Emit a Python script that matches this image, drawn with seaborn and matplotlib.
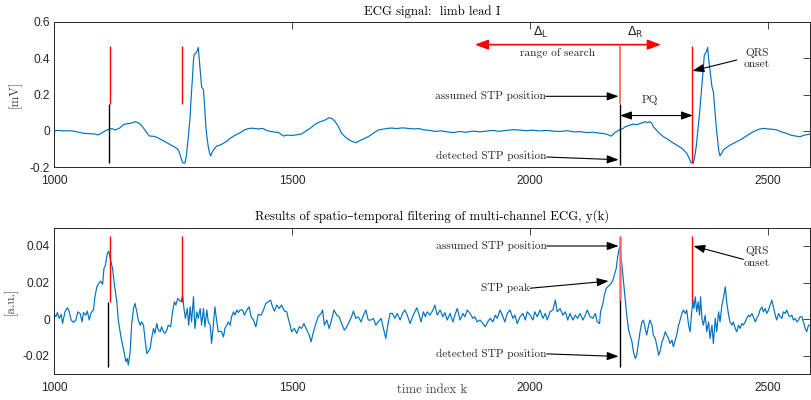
import matplotlib
matplotlib.use("Agg")
import matplotlib.pyplot as plt
import seaborn as sns
import pandas as pd

# ---------------- data ----------------
top_k = [1000, 1010, 1020, 1034, 1045, 1055, 1062, 1075, 1085, 1093, 1100, 1104, 1110, 1116, 1122, 1128,
         1134, 1139, 1144, 1149, 1158, 1165, 1170, 1176, 1181, 1186, 1191, 1196, 1200, 1208, 1216, 1226,
         1237, 1248, 1258, 1262, 1265, 1268, 1270, 1275, 1278, 1280, 1283, 1286, 1288, 1291, 1293, 1294,
         1297, 1300, 1303, 1305, 1307, 1310, 1314, 1316, 1319, 1321, 1324, 1327, 1329, 1332, 1335, 1342,
         1350, 1356, 1363, 1370, 1380, 1391, 1400, 1408, 1418, 1428, 1438, 1450, 1460, 1472, 1482, 1490,
         1500, 1510, 1520, 1530, 1538, 1545, 1552, 1560, 1570, 1578, 1585, 1590, 1597, 1604, 1612, 1620,
         1627, 1634, 1642, 1650, 1660, 1670, 1681, 1690, 1700, 1709, 1720, 1732, 1744, 1755, 1766, 1779,
         1790, 1800, 1812, 1825, 1839, 1852, 1865, 1880, 1895, 1909, 1922, 1935, 1950, 1965, 1979, 1992,
         2005, 2020, 2035, 2049, 2063, 2078, 2092, 2105, 2119, 2132, 2145, 2155, 2161, 2166, 2170, 2174,
         2178, 2183, 2187, 2195, 2200, 2208, 2217, 2224, 2231, 2237, 2242, 2247, 2252, 2256, 2259, 2265,
         2272, 2280, 2288, 2296, 2308, 2318, 2329, 2334, 2338, 2343, 2346, 2349, 2352, 2356, 2360, 2363,
         2366, 2369, 2371, 2373, 2375, 2377, 2382, 2385, 2388, 2391, 2394, 2396, 2399, 2403, 2406, 2413,
         2420, 2430, 2441, 2455, 2469, 2480, 2490, 2500, 2510, 2518, 2530, 2539, 2546, 2555, 2567, 2575,
         2588]
top_v = [0.000, 0.002, -0.001, 0.000, -0.004, -0.010, -0.014, -0.016, -0.018, -0.023, -0.012, -0.005,
         0.003, 0.008, 0.012, 0.004, 0.010, 0.017, 0.030, 0.037, 0.040, 0.044, 0.050, 0.045, 0.037, 0.022,
         0.004, -0.015, -0.029, -0.030, -0.036, -0.050, -0.066, -0.082, -0.097, -0.110, -0.134, -0.160,
         -0.176, -0.178, -0.140, -0.088, -0.010, 0.078, 0.180, 0.298, 0.390, 0.418, 0.425, 0.436, 0.460,
         0.400, 0.335, 0.243, 0.225, 0.150, 0.022, -0.030, -0.088, -0.125, -0.139, -0.120, -0.106, -0.084,
         -0.078, -0.069, -0.058, -0.042, -0.025, -0.011, 0.005, 0.012, 0.014, 0.010, 0.013, -0.001, -0.006,
         -0.010, -0.029, -0.024, -0.026, -0.022, -0.018, 0.000, 0.013, 0.028, 0.041, 0.050, 0.060, 0.072,
         0.065, 0.053, 0.025, -0.014, -0.035, -0.050, -0.060, -0.066, -0.055, -0.045, -0.033, -0.015, 0.004,
         0.008, 0.013, 0.015, 0.012, 0.016, 0.013, 0.010, 0.012, 0.004, 0.002, -0.004, 0.000, -0.006,
         -0.010, -0.004, -0.008, -0.002, -0.006, -0.002, 0.002, -0.003, 0.002, 0.006, 0.004, 0.000, 0.003,
         -0.001, 0.002, -0.002, -0.004, 0.000, -0.006, -0.005, -0.010, -0.008, -0.013, -0.016, -0.019,
         -0.024, -0.030, -0.022, -0.010, -0.002, 0.004, 0.012, 0.022, 0.030, 0.037, 0.033, 0.040, 0.045,
         0.050, 0.044, 0.050, 0.040, 0.022, 0.005, -0.015, -0.033, -0.045, -0.060, -0.079, -0.095, -0.124,
         -0.150, -0.176, -0.178, -0.140, -0.088, -0.010, 0.096, 0.220, 0.317, 0.418, 0.430, 0.440, 0.460,
         0.400, 0.354, 0.243, 0.215, 0.120, 0.022, -0.050, -0.106, -0.139, -0.122, -0.106, -0.092, -0.079,
         -0.066, -0.051, -0.028, -0.005, 0.008, 0.013, 0.010, 0.008, 0.004, -0.008, -0.015, -0.023, -0.028,
         -0.033, -0.025, -0.018]

bot_k = [1000, 1004, 1007, 1011, 1015, 1018, 1023, 1028, 1031, 1036, 1041, 1046, 1050, 1055, 1059, 1062,
         1067, 1070, 1074, 1078, 1083, 1086, 1090, 1094, 1098, 1102, 1105, 1108, 1112, 1115, 1118, 1123,
         1127, 1132, 1135, 1140, 1144, 1147, 1151, 1154, 1156, 1160, 1163, 1167, 1170, 1174, 1177, 1181,
         1184, 1188, 1191, 1195, 1198, 1202, 1205, 1209, 1212, 1216, 1219, 1223, 1226, 1230, 1233, 1237,
         1240, 1245, 1249, 1253, 1256, 1260, 1263, 1267, 1270, 1273, 1276, 1280, 1283, 1286, 1289, 1293,
         1296, 1300, 1303, 1307, 1310, 1314, 1317, 1321, 1324, 1328, 1331, 1335, 1338, 1342, 1345, 1349,
         1352, 1356, 1359, 1363, 1366, 1370, 1373, 1377, 1380, 1384, 1387, 1391,
         1396, 1400, 1405, 1410, 1414, 1419, 1424, 1429, 1435, 1440, 1445, 1450, 1455, 1459, 1463, 1468,
         1473, 1478, 1484, 1489, 1492, 1496, 1499, 1505, 1510, 1515, 1520, 1525, 1531, 1536, 1540, 1545,
         1550, 1555, 1561, 1564, 1568, 1573, 1578, 1583, 1588, 1594, 1599, 1604, 1610, 1615, 1620, 1625,
         1629, 1634, 1639, 1645, 1650, 1655, 1660, 1666, 1671, 1676, 1681, 1687, 1692, 1697, 1701, 1706,
         1711, 1716, 1721, 1727, 1732, 1737, 1742, 1748, 1753, 1758, 1762, 1767, 1771, 1776,
         1780, 1784, 1790, 1796, 1800, 1805, 1811, 1817, 1821, 1826, 1832, 1838, 1842, 1847, 1853, 1859,
         1863, 1868, 1874, 1880, 1884, 1889, 1895, 1901, 1906, 1911, 1916, 1922, 1927, 1931, 1937, 1943,
         1947, 1952, 1958, 1964, 1968, 1973, 1979, 1985, 1990, 1994, 2000, 2006, 2010, 2015, 2021, 2027,
         2032, 2036, 2042, 2048, 2053, 2057, 2063, 2069, 2074, 2079, 2084, 2090, 2095, 2100, 2105, 2111,
         2116, 2120, 2126, 2132, 2137, 2141, 2146, 2148, 2153, 2156, 2160, 2163, 2167, 2170, 2174, 2177,
         2181, 2184, 2188, 2190, 2195, 2199, 2203, 2207, 2210, 2214, 2217, 2221, 2224, 2228, 2231, 2235,
         2238, 2242, 2245, 2249, 2252, 2256, 2259, 2263, 2266, 2270, 2273, 2277, 2280, 2284, 2287, 2291,
         2294, 2298, 2301, 2305, 2308, 2312, 2315, 2319, 2322, 2326, 2329, 2333, 2336, 2339, 2342, 2344,
         2347, 2350, 2353, 2356, 2358, 2361, 2364, 2368, 2371, 2375, 2378, 2382, 2385, 2389, 2392, 2396,
         2399, 2403, 2406, 2410, 2413, 2417, 2420, 2424, 2427, 2431, 2434, 2438, 2441, 2445, 2448, 2452,
         2455, 2459, 2462, 2466, 2469, 2473, 2476, 2480, 2483, 2487, 2490, 2494, 2497, 2501, 2504, 2508,
         2511, 2515, 2518, 2522, 2525, 2529, 2532, 2536, 2539, 2543, 2546, 2550, 2553, 2557, 2560, 2564,
         2567, 2571, 2574, 2578, 2581, 2585, 2588]
bot_v = [0.0031, 0.0013, 0.0036, 0.0004, 0.0026, -0.0024, 0.0040, 0.0062, 0.0050, -0.0005, -0.0018,
         -0.0005, 0.0040, 0.0030, -0.0015, 0.0036, 0.0022, 0.0044, -0.0005, 0.0036, 0.0050, 0.0122, 0.0177,
         0.0195, 0.0208, 0.0190, 0.0277, 0.0295, 0.0359, 0.0372, 0.0332, 0.0277, 0.0186, 0.0095, -0.0005,
         -0.0087, -0.0142, -0.0178, -0.0233, -0.0215, -0.0251, -0.0178, -0.0033, 0.0058, 0.0086, 0.0040,
         -0.0005, -0.0033, -0.0015, -0.0033, -0.0106, -0.0188, -0.0178, -0.0160, -0.0106, -0.0051, -0.0078,
         -0.0024, -0.0060, -0.0069, -0.0042, -0.0069, -0.0078, -0.0060, -0.0033, -0.0042, 0.0040, 0.0095,
         0.0077, 0.0113, 0.0104, 0.0095, 0.0131, 0.0058, 0.0004, 0.0058, -0.0033, 0.0067, -0.0015, 0.0122,
         -0.0051, 0.0040, 0.0004, 0.0058, -0.0033, 0.0058, -0.0042, 0.0050, -0.0015, -0.0033, -0.0133,
         -0.0024, 0.0067, -0.0015, -0.0069, -0.0066, -0.0069, -0.0097, -0.0051, -0.0033, -0.0015, -0.0033,
         0.0013, 0.0040, 0.0022, 0.0050, 0.0036, 0.0050,
         0.0050, 0.0022, 0.0050, 0.0067, 0.0013, -0.0005, -0.0042, 0.0026, 0.0022, 0.0050, 0.0086, 0.0095,
         0.0104, 0.0067, 0.0044, 0.0077, 0.0058, 0.0077, 0.0044, 0.0040, 0.0004, -0.0033, -0.0069, -0.0051,
         -0.0078, -0.0042, -0.0051, -0.0024, -0.0060, -0.0087, -0.0124, -0.0069, -0.0024, 0.0013, 0.0031,
         0.0050, -0.0033, -0.0005, -0.0051, -0.0005, 0.0050, 0.0022, 0.0013, -0.0024, -0.0060, -0.0042,
         -0.0015, 0.0013, 0.0044, 0.0004, 0.0013, -0.0015, 0.0022, 0.0050, -0.0005, -0.0005, 0.0004,
         -0.0033, -0.0015, 0.0004, -0.0051, -0.0106, -0.0033, 0.0031, 0.0031, 0.0004, 0.0031, -0.0005,
         0.0031, 0.0050, 0.0022, -0.0024, 0.0013, 0.0040, 0.0062, 0.0022, -0.0015, 0.0040,
         0.0013, 0.0040, 0.0022, 0.0050, 0.0077, 0.0022, 0.0050, 0.0013, 0.0036, -0.0005, 0.0031, -0.0015,
         0.0022, 0.0058, -0.0005, 0.0031, 0.0013, 0.0050, 0.0031, 0.0004, 0.0013, -0.0015, -0.0005, -0.0024,
         -0.0042, -0.0015, 0.0004, -0.0015, 0.0022, 0.0004, 0.0050, 0.0013, -0.0015, 0.0031, 0.0050, 0.0004,
         0.0022, -0.0024, 0.0013, 0.0031, -0.0005, 0.0040, 0.0022, -0.0005, 0.0040, 0.0013, 0.0050, 0.0004,
         0.0031, -0.0005, 0.0040, 0.0050, 0.0104, 0.0040, 0.0058, 0.0022, 0.0040, -0.0005, 0.0031, -0.0005,
         0.0022, 0.0004, 0.0031, -0.0005, 0.0022, 0.0050, 0.0013, 0.0004, 0.0031, -0.0015, -0.0024, 0.0040,
         0.0086, 0.0131, 0.0168, 0.0177, 0.0186, 0.0195, 0.0213, 0.0240, 0.0277, 0.0341, 0.0395, 0.0368,
         0.0240, 0.0131, 0.0022, -0.0060, -0.0087, -0.0124, -0.0178, -0.0215, -0.0197, -0.0124, -0.0069,
         -0.0015, -0.0005, -0.0051, -0.0087, -0.0033, -0.0005, -0.0033, -0.0087, -0.0106, -0.0142, -0.0197,
         -0.0178, -0.0124, -0.0106, -0.0069, -0.0087, -0.0106, -0.0133, -0.0115, -0.0151, -0.0115, -0.0087,
         -0.0033, -0.0005, 0.0031, 0.0050, 0.0031, 0.0050, -0.0033, -0.0069, 0.0022, 0.0104, 0.0058, 0.0122,
         0.0040, 0.0095, 0.0022, 0.0122, 0.0004, -0.0033, 0.0022, -0.0069, -0.0015, -0.0106, -0.0033,
         -0.0133, 0.0004, -0.0069, 0.0040, -0.0015, 0.0077, 0.0113, 0.0177, 0.0095, 0.0022, -0.0015, -0.0033,
         -0.0015, -0.0051, -0.0069, -0.0033, -0.0051, -0.0024, -0.0033, -0.0015, 0.0004, 0.0022, 0.0013,
         0.0031, 0.0013, -0.0015, 0.0004, 0.0022, 0.0050, 0.0067, 0.0040, 0.0058, 0.0031, 0.0050, 0.0077,
         0.0104, 0.0067, 0.0022, -0.0005, 0.0031, 0.0013, 0.0004, 0.0040, 0.0031, 0.0050, 0.0022, 0.0013,
         0.0022, -0.0005, 0.0004, -0.0015, -0.0005, 0.0013, 0.0013, -0.0015, -0.0051, -0.0069, -0.0033,
         -0.0033]

x_ticks = [1000, 1500, 2000, 2500]
x_tick_labels = ["1000", "1500", "2000", "2500"]
top_yticks = [-0.2, 0, 0.2, 0.4, 0.6]
top_ytick_labels = ["-0.2", "0", "0.2", "0.4", "0.6"]
bot_yticks = [-0.02, 0, 0.02, 0.04]
bot_ytick_labels = ["-0.02", "0", "0.02", "0.04"]

# marker lines (position, low, high)
top_red_k = [1118, 1268, 2340]
top_red_lo = [0.145, 0.145, -0.18]
top_red_hi = [0.47, 0.47, 0.47]
top_blk_k = [1115, 2189]
top_blk_lo = [-0.18, -0.19]
top_blk_hi = [0.145, 0.145]
bot_red_k = [1118, 1268, 2340]
bot_red_lo = [0.0096, 0.0096, 0.0096]
bot_red_hi = [0.0456, 0.0456, 0.0456]
bot_blk_k = [1114, 2189]
bot_blk_lo = [-0.026, -0.026]
bot_blk_hi = [0.0096, 0.0105]
stp_k = 2189

# ---------------- style ----------------
sns.set_style("white")
plt.rcParams["font.family"] = ["cmr10", "DejaVu Serif"]
plt.rcParams["mathtext.fontset"] = "dejavusans"

BLUE = "#0072BD"
RED = "#FF0000"
PINK = "#FF6A6A"
AX = "#262626"
TICKFONT = dict(fontfamily="Liberation Sans", fontsize=8.6, color=AX)
ANN = 8.2
LAB = 9.2

fig = plt.figure(figsize=(8.11, 4.0), dpi=100)
ax1 = fig.add_axes([54 / 811, 1 - 167 / 400, 756 / 811, 145 / 400])
ax2 = fig.add_axes([54 / 811, 1 - 374 / 400, 756 / 811, 146.3 / 400])

df_top = pd.DataFrame({"k": top_k, "v": top_v})
df_bot = pd.DataFrame({"k": bot_k, "v": bot_v})
sns.lineplot(data=df_top, x="k", y="v", ax=ax1, color=BLUE, linewidth=0.85, sort=False, estimator=None)
sns.lineplot(data=df_bot, x="k", y="v", ax=ax2, color=BLUE, linewidth=0.85, sort=False, estimator=None)

for ax, yt, ytl, ylim in [(ax1, top_yticks, top_ytick_labels, (-0.2, 0.6)),
                          (ax2, bot_yticks, bot_ytick_labels, (-0.03, 0.05))]:
    ax.set_xlim(1000, 2588)
    ax.set_ylim(*ylim)
    ax.set_xticks(x_ticks, x_tick_labels, **TICKFONT)
    ax.set_yticks(yt, ytl, **TICKFONT)
    ax.tick_params(direction="in", top=True, right=True, length=5, width=0.6, color=AX)
    ax.tick_params(axis="x", pad=6)
    ax.tick_params(axis="y", pad=3)
    for s in ax.spines.values():
        s.set_color(AX)
        s.set_linewidth(0.7)
        s.set_visible(True)
    ax.set_xlabel("")
    ax.set_ylabel("")

ax1.set_ylabel("[mV]", fontsize=LAB, color="#404040", labelpad=6)
ax2.set_ylabel("[a.u.]", fontsize=LAB, color="#404040", labelpad=4)

ax1.text(0.5, 1 + 10 / 145, "ECG signal:  limb lead I", transform=ax1.transAxes,
         ha="center", va="center", fontsize=LAB, color="k")
ax2.text(0.5, 1 + 11.7 / 146.3, "Results of spatio–temporal filtering of multi-channel ECG, y(k)",
         transform=ax2.transAxes, ha="center", va="center", fontsize=LAB, color="k")
fig.text(432 / 811, 1 - 390 / 400, "time index k", ha="center", va="center", fontsize=LAB, color="#404040")

# ---- vertical markers ----
ax1.vlines(top_red_k, top_red_lo, top_red_hi, color=RED, lw=1.0)
ax1.vlines([stp_k], [0.145], [0.47], color=PINK, lw=1.3)
ax1.vlines(top_blk_k, top_blk_lo, top_blk_hi, color="k", lw=1.0)
ax2.vlines(bot_red_k, bot_red_lo, bot_red_hi, color=RED, lw=1.0)
ax2.vlines([stp_k], [0.0105], [0.0456], color=PINK, lw=1.8)
ax2.vlines(bot_blk_k, bot_blk_lo, bot_blk_hi, color="k", lw=1.0)

ARW = dict(arrowstyle="-|>,head_length=0.7,head_width=0.25", color="k", lw=0.8,
           shrinkA=0, shrinkB=0)
DARW = dict(arrowstyle="<|-|>,head_length=0.7,head_width=0.25", color="k", lw=0.8,
            shrinkA=0, shrinkB=0)
RARW = dict(arrowstyle="<|-|>,head_length=0.8,head_width=0.3", color=RED, lw=1.2,
            shrinkA=0, shrinkB=0)

# ---- top annotations ----
ax1.annotate("", xy=(1884, 0.475), xytext=(2275, 0.475), arrowprops=RARW)
ax1.text(2022, 0.54, r"$\Delta_{\mathrm{L}}$", ha="center", va="center", fontsize=9)
ax1.text(2221, 0.54, r"$\Delta_{\mathrm{R}}$", ha="center", va="center", fontsize=9)
ax1.text(2057, 0.43, "range of search", ha="center", va="center", fontsize=ANN)

ax1.text(2033, 0.19, "assumed STP position", ha="right", va="center", fontsize=ANN)
ax1.annotate("", xy=(2186, 0.19), xytext=(2033, 0.19), arrowprops=ARW)
ax1.text(2035, -0.14, "detected STP position", ha="right", va="center", fontsize=ANN)
ax1.annotate("", xy=(2186, -0.16), xytext=(2035, -0.145), arrowprops=ARW)

ax1.text(2252, 0.17, "PQ", ha="center", va="center", fontsize=ANN)
ax1.annotate("", xy=(2189, 0.084), xytext=(2342, 0.084), arrowprops=DARW)

ax1.text(2476, 0.40, "QRS\nonset", ha="center", va="center", fontsize=ANN,
         multialignment="center", linespacing=1.25)
ax1.annotate("", xy=(2341, 0.33), xytext=(2434, 0.39), arrowprops=ARW)

# ---- bottom annotations ----
ax2.text(2035, 0.040, "assumed STP position", ha="right", va="center", fontsize=ANN)
ax2.annotate("", xy=(2186, 0.040), xytext=(2035, 0.040), arrowprops=ARW)
ax2.text(2000, 0.0169, "STP peak", ha="right", va="center", fontsize=ANN)
ax2.annotate("", xy=(2165, 0.0208), xytext=(2000, 0.0169), arrowprops=ARW)
ax2.text(2035, -0.0190, "detected STP position", ha="right", va="center", fontsize=ANN)
ax2.annotate("", xy=(2186, -0.0204), xytext=(2035, -0.0190), arrowprops=ARW)

ax2.text(2476, 0.034, "QRS\nonset", ha="center", va="center", fontsize=ANN,
         multialignment="center", linespacing=1.25)
ax2.annotate("", xy=(2343, 0.0400), xytext=(2448, 0.0327), arrowprops=ARW)

fig.savefig("out.png", dpi=100)
